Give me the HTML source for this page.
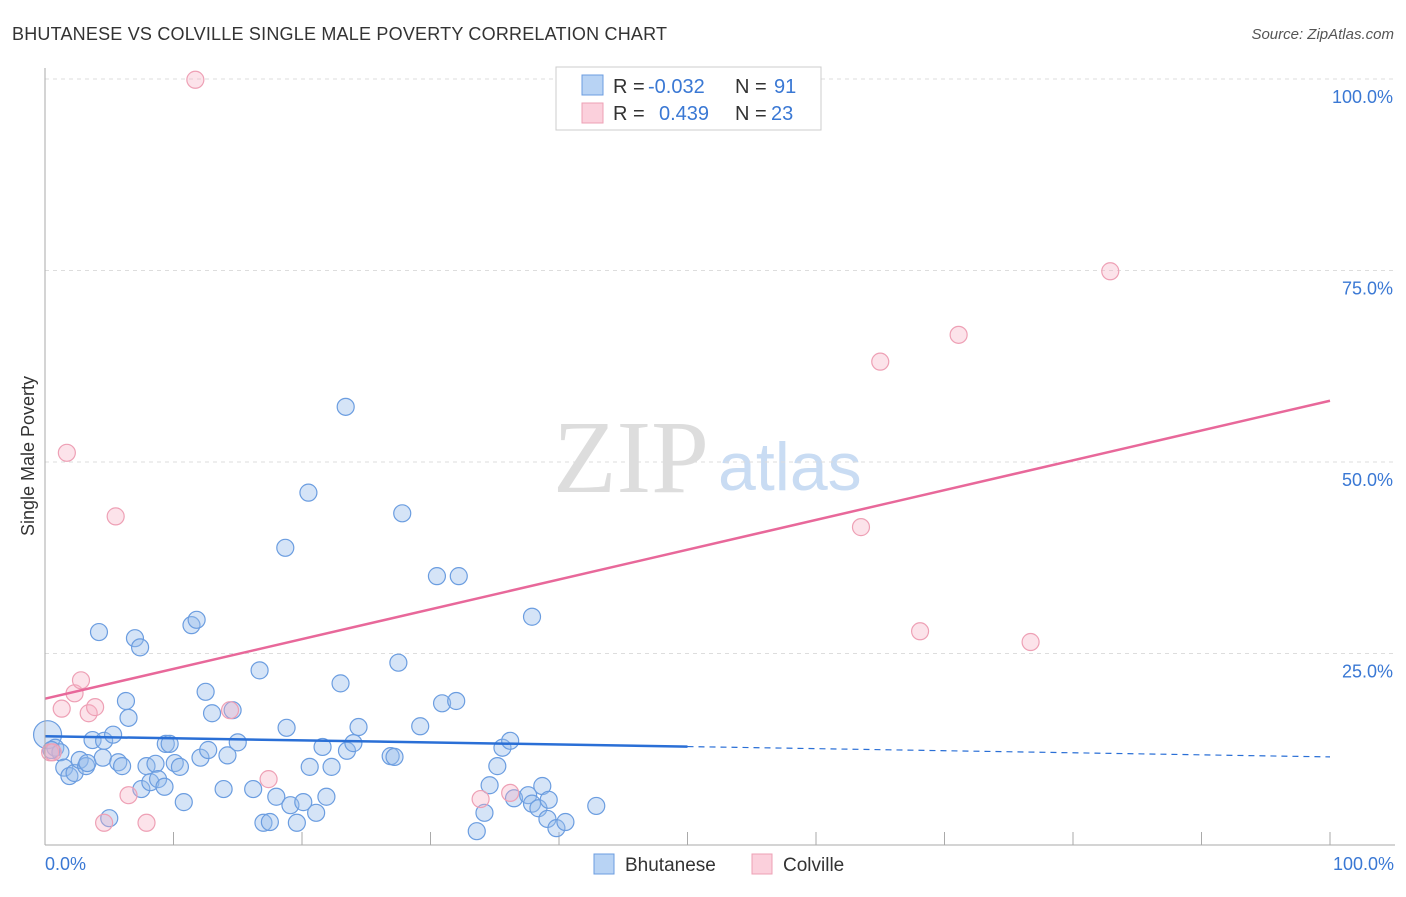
<!DOCTYPE html>
<html><head><meta charset="utf-8"><style>
body{margin:0;background:#fff;font-family:"Liberation Sans",sans-serif}
svg text{font-family:"Liberation Sans",sans-serif}
</style></head><body>
<svg id="c" width="1406" height="892">
<text x="12" y="40" font-size="18" fill="#333" textLength="655">BHUTANESE VS COLVILLE SINGLE MALE POVERTY CORRELATION CHART</text>
<text x="1394" y="39" font-size="15" fill="#555" font-style="italic" text-anchor="end">Source: ZipAtlas.com</text>
<text x="34" y="456" font-size="18" fill="#333" text-anchor="middle" transform="rotate(-90 34 456)">Single Male Poverty</text>
<text x="553" y="492" font-size="104" fill="#ddd" style="font-family:'Liberation Serif',serif">ZIP</text>
<text x="718" y="490" font-size="68" fill="#c9dcf3">atlas</text>
<g id="grid"></g><g id="pts"></g><g id="lines"></g>
<line x1="45" y1="68" x2="45" y2="845" stroke="#aaa"/>
<line x1="45" y1="845" x2="1395" y2="845" stroke="#aaa"/>
<text x="45" y="870" font-size="18" fill="#3a78d4">0.0%</text>
<text x="1394" y="870" font-size="18" fill="#3a78d4" text-anchor="end">100.0%</text>
<g>
<rect x="556" y="67" width="265" height="63" fill="#fff" stroke="#ccc"/>
<rect x="582" y="75" width="21" height="20" fill="#b8d3f4" stroke="#6b9de0"/>
<text x="613" y="93" font-size="20" fill="#333">R = </text><text x="648" y="93" font-size="20" fill="#3a78d4">-0.032</text>
<text x="735" y="93" font-size="20" fill="#333">N = </text><text x="774" y="93" font-size="20" fill="#3a78d4">91</text>
<rect x="582" y="103" width="21" height="20" fill="#fbd0dc" stroke="#eea0b5"/>
<text x="613" y="120" font-size="20" fill="#333">R = </text><text x="659" y="120" font-size="20" fill="#3a78d4">0.439</text>
<text x="735" y="120" font-size="20" fill="#333">N = </text><text x="771" y="120" font-size="20" fill="#3a78d4">23</text>
</g>
<g><rect x="594" y="854" width="20" height="20" fill="#b8d3f4" stroke="#6b9de0"/><text x="625" y="871" font-size="19" fill="#333">Bhutanese</text></g>
<g><rect x="752" y="854" width="20" height="20" fill="#fbd0dc" stroke="#eea0b5"/><text x="783" y="871" font-size="19" fill="#333">Colville</text></g>
</svg>
<script>
const yTicks=[25,50,75,100];
const yTickLabels=["25.0%","50.0%","75.0%","100.0%"];
const xTicks=[0,10,20,30,40,50,60,70,80,90,100];
const bhuX=[0.2,0.8,1.2,0.5,1.5,1.9,2.3,2.7,3.2,3.3,3.7,4.2,4.6,4.5,5.0,5.3,5.7,6.0,6.3,6.5,7.0,7.4,7.5,7.9,8.2,8.6,8.8,9.3,9.4,9.7,10.1,10.5,10.8,11.4,11.8,12.1,12.5,12.7,13.0,13.9,14.2,14.6,15.0,16.2,16.7,17.0,17.5,18.0,18.7,18.8,19.1,19.6,20.1,20.5,20.6,21.1,21.6,21.9,22.3,23.0,23.4,23.5,24.0,24.4,26.9,27.2,27.5,27.8,29.2,30.5,30.9,32.0,32.2,33.6,34.2,34.6,35.2,35.6,36.2,36.5,37.6,37.9,37.9,38.4,38.7,39.1,39.2,39.8,40.5,42.9];
const bhuY=[14.4,12.7,12.1,12.4,10.1,9.0,9.4,11.1,10.3,10.7,13.7,27.8,13.6,11.4,3.5,14.4,10.8,10.3,18.8,16.6,27.0,25.8,7.3,10.3,8.2,10.6,8.6,7.6,13.2,13.2,10.7,10.2,5.6,28.7,29.4,11.4,20.0,12.4,17.2,7.3,11.7,17.6,13.4,7.3,22.8,2.9,3.0,6.3,38.8,15.3,5.2,2.9,5.6,46.0,10.2,4.2,12.8,6.3,10.2,21.1,57.2,12.3,13.3,15.4,11.6,11.5,23.8,43.3,15.5,35.1,18.5,18.8,35.1,1.8,4.2,7.8,10.3,12.7,13.6,6.1,6.5,29.8,5.4,4.8,7.7,3.4,5.9,2.2,3.0,5.1];
const colX=[0.4,0.6,1.3,1.7,2.3,2.8,3.4,3.9,4.6,5.5,6.5,7.9,11.7,14.4,17.4,33.9,36.2,63.5,65.0,68.1,71.1,76.7,82.9];
const colY=[12.1,12.1,17.8,51.2,19.8,21.5,17.2,18.0,2.9,42.9,6.5,2.9,99.9,17.6,8.6,6.0,6.8,41.5,63.1,27.9,66.6,26.5,74.9];
const bhuTrend=[14.2,11.5];
const colTrend=[19.1,58.0];
const NS="http://www.w3.org/2000/svg";
const X=v=>45+v*12.85, Y=v=>845-v*7.66;
function mk(tag,attrs,parent){const e=document.createElementNS(NS,tag);for(const k in attrs)e.setAttribute(k,attrs[k]);document.getElementById(parent).appendChild(e);return e;}
yTicks.forEach((t,i)=>{
 const l=mk('line',{x1:45,x2:1395,y1:Y(t),y2:Y(t),stroke:'#ddd','stroke-dasharray':'4,4'},'grid');
 
 
 const tx=mk('text',{x:1393,y:Y(t)+24,'font-size':18,fill:'#3a78d4','text-anchor':'end'},'grid');
 tx.textContent=yTickLabels[i];
 
 
});
xTicks.forEach(t=>{
 const l=mk('line',{x1:X(t),x2:X(t),y1:832,y2:845,stroke:'#aaa'},'grid');
 
 
});
bhuX.forEach((x,i)=>{
 const c=mk('circle',{cx:X(x),cy:Y(bhuY[i]),r:i===0?14:8.5,fill:'rgba(150,188,236,0.4)',stroke:'#6b9de0','stroke-width':1.2},'pts');
 
 
});
colX.forEach((x,i)=>{
 const c=mk('circle',{cx:X(x),cy:Y(colY[i]),r:8.5,fill:'rgba(246,175,195,0.35)',stroke:'#eea0b5','stroke-width':1.2},'pts');
 
 
});
const bm=bhuTrend[0]+(bhuTrend[1]-bhuTrend[0])*0.5;
let l1=mk('line',{x1:X(0),y1:Y(bhuTrend[0]),x2:X(50),y2:Y(bm),stroke:'#2a6fd6','stroke-width':2.5},'lines');


let l2=mk('line',{x1:X(50),y1:Y(bm),x2:X(100),y2:Y(bhuTrend[1]),stroke:'#2a6fd6','stroke-width':1.2,'stroke-dasharray':'6,5'},'lines');


let l3=mk('line',{x1:X(0),y1:Y(colTrend[0]),x2:X(100),y2:Y(colTrend[1]),stroke:'#e8689a','stroke-width':2.5},'lines');


</script>
</body></html>
